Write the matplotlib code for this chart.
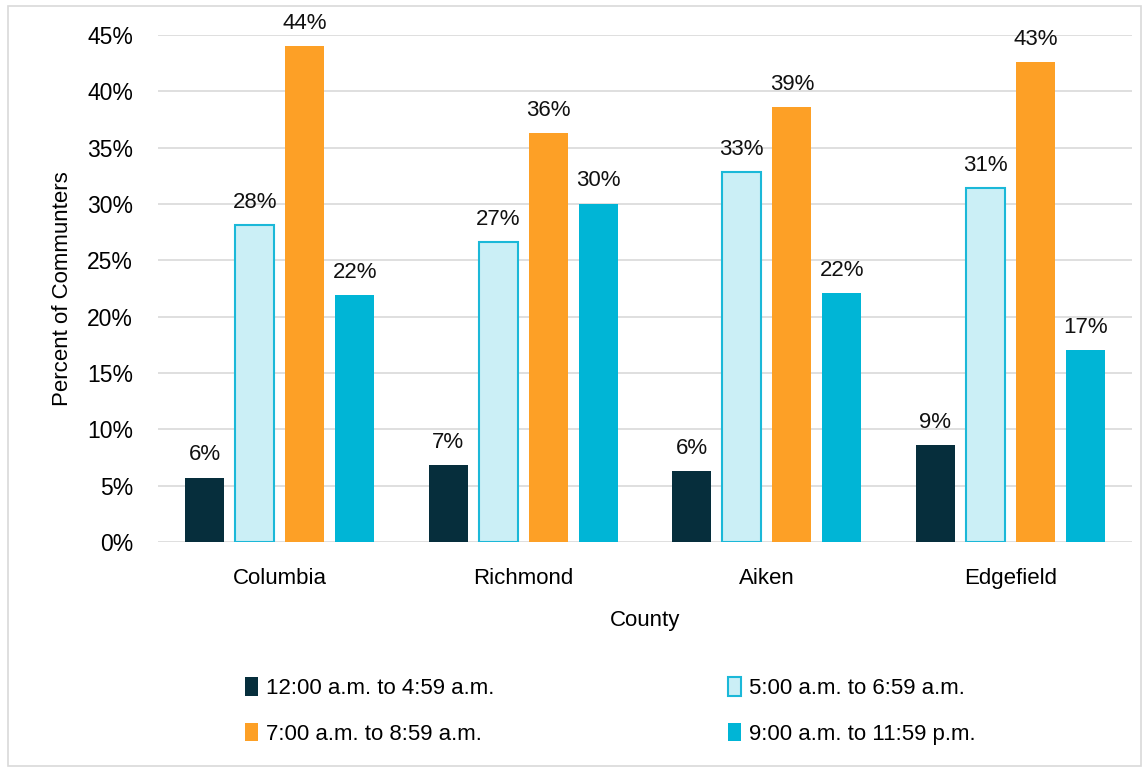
import matplotlib
matplotlib.use("Agg")
import matplotlib.pyplot as plt
import numpy as np
from matplotlib.patches import Rectangle
from matplotlib.ticker import PercentFormatter

counties = ["Columbia", "Richmond", "Aiken", "Edgefield"]
series_names = ["12:00 a.m. to 4:59 a.m.", "5:00 a.m. to 6:59 a.m.",
                "7:00 a.m. to 8:59 a.m.", "9:00 a.m. to 11:59 p.m."]
early = [0.057, 0.068, 0.063, 0.086]
dawn = [0.281, 0.266, 0.328, 0.314]
morning = [0.440, 0.363, 0.386, 0.426]
later = [0.219, 0.300, 0.221, 0.170]
y_ticks = [0, 0.05, 0.10, 0.15, 0.20, 0.25, 0.30, 0.35, 0.40, 0.45]

series = [early, dawn, morning, later]
fills = ["#062E3C", "#CBEFF6", "#FDA026", "#00B5D6"]
edges = ["#062E3C", "#1BB8D8", "#FDA026", "#00B5D6"]

plt.rcParams["font.family"] = ["Liberation Sans", "DejaVu Sans"]

W, H = 1147, 770
fig = plt.figure(figsize=(W / 100, H / 100), dpi=100)
fig.patches.append(Rectangle((8 / W, 4 / H), (W - 14) / W, (H - 10) / H,
                             transform=fig.transFigure, fill=False,
                             edgecolor="#D9D9D9", linewidth=1.2))

ax = fig.add_axes([158 / W, (H - 542) / H, (1132 - 158) / W, (542 - 35) / H])
x = np.arange(len(counties))
width = 0.16
offsets = [-0.308, -0.103, 0.103, 0.308]
handles = []
for vals, off, fc, ec, name in zip(series, offsets, fills, edges, series_names):
    lw = 1.5 if fc != ec else 0
    bars = ax.bar(x + off, vals, width, color=fc, edgecolor=ec, linewidth=lw,
                  label=name, zorder=3)
    handles.append(bars)
    for xi, v in zip(x + off, vals):
        ax.annotate(f"{v * 100:.0f}%", (xi, v), xytext=(0, 9),
                    textcoords="offset points", ha="center", va="bottom",
                    fontsize=16, color="#111111")

ax.set_xlim(-0.5, len(counties) - 0.5)
ax.set_ylim(0, 0.45)
ax.set_yticks(y_ticks)
ax.yaxis.set_major_formatter(PercentFormatter(1.0, decimals=0))
ax.set_xticks(x)
ax.set_xticklabels(counties, fontsize=16)
ax.tick_params(axis="y", labelsize=16.5, length=0, pad=18)
ax.tick_params(axis="x", length=0, pad=19)
ax.grid(axis="y", color="#D9D9D9", linewidth=1.2, zorder=0)
for s in ax.spines.values():
    s.set_visible(False)

ax.set_xlabel("County", fontsize=16, labelpad=15)
ax.set_ylabel("Percent of Communters", fontsize=16, labelpad=10)

# row-wise legend order for a two-column layout
order = [0, 2, 1, 3]
fig.legend(handles=[handles[i] for i in order],
           labels=[series_names[i] for i in order], ncol=2, loc="center",
           bbox_to_anchor=(0.532, (H - 711) / H), frameon=False, fontsize=16,
           handlelength=0.6, handleheight=0.9, handletextpad=0.35,
           columnspacing=10.5, labelspacing=1.05)

fig.savefig("out.png", dpi=100, facecolor="white")
